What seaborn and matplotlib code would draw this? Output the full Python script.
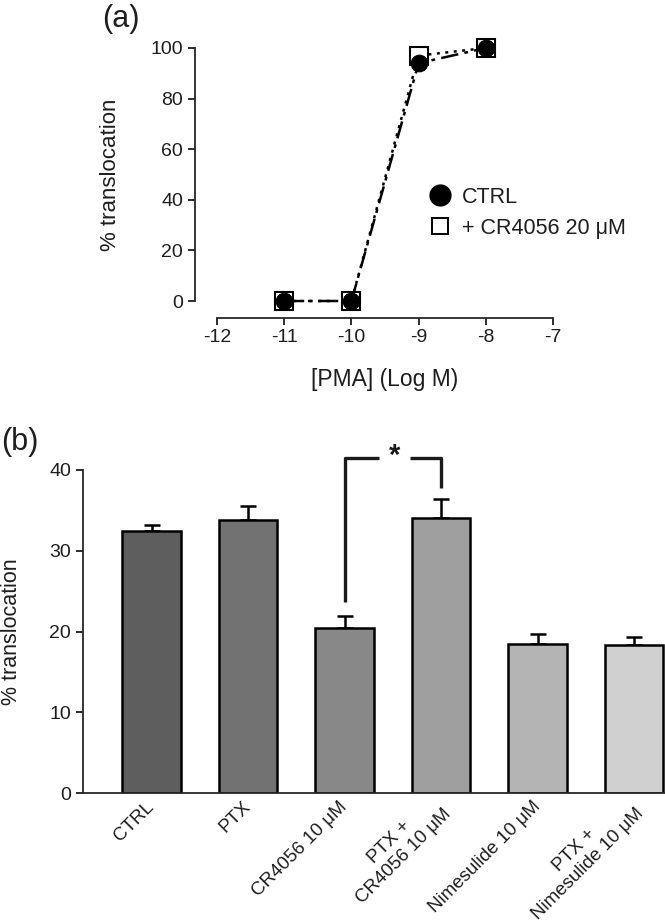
import numpy as np
import pandas as pd
import matplotlib
matplotlib.use("Agg")
import matplotlib.pyplot as plt
from matplotlib.lines import Line2D
import seaborn as sns

# ---------------- data ----------------
pma_log = [-11, -10, -9, -8]
ctrl_translocation = [0, 0, 94, 100]
cr4056_translocation = [0, 0, 97, 100]
a_xticks = [-12, -11, -10, -9, -8, -7]
a_yticks = [0, 20, 40, 60, 80, 100]

bar_categories = ["CTRL", "PTX", "CR4056 10 μM", "PTX +\nCR4056 10 μM",
                  "Nimesulide 10 μM", "PTX +\nNimesulide 10 μM"]
bar_values = [32.4, 33.8, 20.4, 34.1, 18.5, 18.3]
bar_errors = [0.8, 1.7, 1.5, 2.3, 1.2, 1.0]
bar_colors = ["#5e5e5e", "#727272", "#888888", "#9f9f9f", "#b4b4b4", "#d0d0d0"]
b_yticks = [0, 10, 20, 30, 40]
sig_pair = (2, 3)
sig_top = 41.5
sig_left_bottom = 23.7
sig_right_bottom = 37.8

# ---------------- style ----------------
sns.set_theme(style="ticks")
plt.rcParams["font.family"] = ["Liberation Sans", "DejaVu Sans"]
plt.rcParams["axes.unicode_minus"] = False
plt.rcParams["axes.linewidth"] = 1.3
plt.rcParams["xtick.major.width"] = 1.3
plt.rcParams["ytick.major.width"] = 1.3
plt.rcParams["xtick.major.size"] = 5
plt.rcParams["ytick.major.size"] = 5

TXT = "#1e1e1e"
W, H = 665, 923
fig = plt.figure(figsize=(W / 100, H / 100), dpi=100)

def px_axes(left, top, right, bottom):
    return fig.add_axes([left / W, 1 - bottom / H, (right - left) / W, (bottom - top) / H])

# ---------------- panel (a) ----------------
ax1 = px_axes(217, 48, 553, 301)
sns.lineplot(x=pma_log, y=cr4056_translocation, ax=ax1, color="black",
             linestyle=(0, (1.2, 2.2)), lw=1.8, marker="s", markersize=13.5,
             markerfacecolor="white", markeredgecolor="black", markeredgewidth=1.5,
             clip_on=False, zorder=3)
sns.lineplot(x=pma_log, y=ctrl_translocation, ax=ax1, color="black",
             linestyle=(0, (7, 2.5, 1.5, 2.5)), lw=1.8, marker="o", markersize=12,
             markerfacecolor="black", markeredgecolor="black",
             clip_on=False, zorder=4)
ax1.set_xlim(-12, -7)
ax1.set_ylim(0, 100)
ax1.set_xticks(a_xticks)
ax1.set_xticklabels([str(v) for v in a_xticks])
ax1.set_yticks(a_yticks)
ax1.tick_params(labelsize=14, color=TXT, labelcolor=TXT)
ax1.set_xlabel("[PMA] (Log M)", fontsize=16.5, color=TXT, va="top")
ax1.set_ylabel("% translocation", fontsize=16, color=TXT)
sns.despine(ax=ax1, offset={"left": 16, "bottom": 12}, trim=True)
ax1.xaxis.set_label_coords(0.5, -0.265)
ax1.yaxis.set_label_coords(-0.285, 0.5)

handles = [
    Line2D([], [], linestyle="none", marker="o", markersize=15,
           markerfacecolor="black", markeredgecolor="black"),
    Line2D([], [], linestyle="none", marker="s", markersize=12,
           markerfacecolor="white", markeredgecolor="black", markeredgewidth=1.4),
]
ax1.legend(handles, ["CTRL", "+ CR4056 20 μM"], loc="upper left",
           bbox_to_anchor=(429 / W, 1 - 187 / H), bbox_transform=fig.transFigure,
           frameon=False, fontsize=15.5, handlelength=1.0, handletextpad=0.55,
           labelspacing=0.45, borderpad=0, borderaxespad=0,
           labelcolor=TXT)

fig.text(102 / W, 1 - 4 / H, "(a)", fontsize=22, va="top", ha="left", color=TXT)

# ---------------- panel (b) ----------------
ax2 = px_axes(83, 470, 665, 793)
sns.barplot(x=bar_categories, y=bar_values, hue=bar_categories, palette=bar_colors,
            legend=False, width=0.606, edgecolor="black", linewidth=1.8,
            saturation=1, errorbar=None, ax=ax2, zorder=2)
xpos = np.arange(len(bar_categories))
ax2.errorbar(xpos, bar_values, yerr=[np.zeros(len(bar_errors)), bar_errors],
             fmt="none", ecolor="black", elinewidth=1.8, capsize=6, capthick=1.8,
             zorder=1)
ax2.set_xlim(-0.71, 5.32)
ax2.set_ylim(0, 40)
ax2.set_yticks(b_yticks)
ax2.tick_params(axis="y", labelsize=14, color=TXT, labelcolor=TXT)
ax2.tick_params(axis="x", length=0, labelsize=13.5, labelcolor=TXT, pad=8)
plt.setp(ax2.get_xticklabels(), rotation=45, ha="right", va="center",
         rotation_mode="anchor", multialignment="center")
ax2.set_xlabel("")
ax2.set_ylabel("% translocation", fontsize=15.5, color=TXT)
ax2.yaxis.set_label_coords(-0.105, 0.5)
sns.despine(ax=ax2)

# significance bracket
l, r = sig_pair
gap_l, gap_r = l + 0.36, l + 0.68
kw = dict(color="#1a1a1a", lw=2.4, clip_on=False, solid_capstyle="butt")
ax2.plot([l, l, gap_l], [sig_left_bottom, sig_top, sig_top], **kw)
ax2.plot([gap_r, r, r], [sig_top, sig_top, sig_right_bottom], **kw)
ax2.text((gap_l + gap_r) / 2, sig_top + 0.3, "*", ha="center", va="center",
         fontsize=21, fontweight="bold", color="#1a1a1a")

fig.text(1 / W, 1 - 427 / H, "(b)", fontsize=22, va="top", ha="left", color=TXT)

fig.savefig("out.png", dpi=100)
